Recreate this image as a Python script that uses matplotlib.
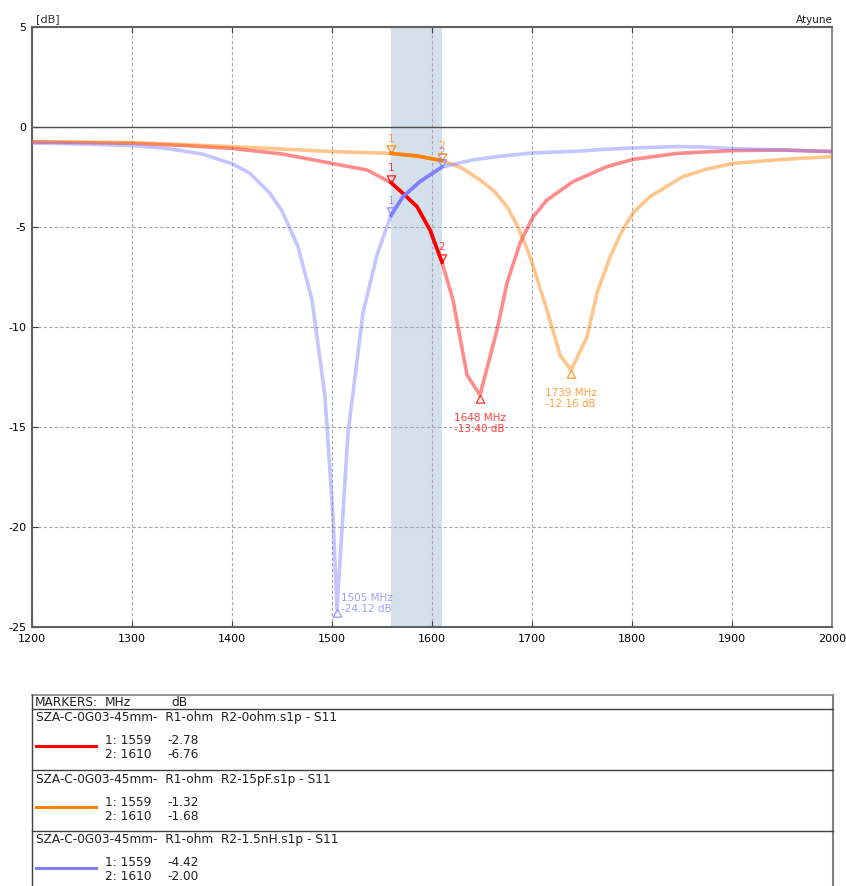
import numpy as np
import matplotlib
matplotlib.use("Agg")
import matplotlib.pyplot as plt
from matplotlib.path import Path

# ---- data (MHz, dB) ----
freq_0ohm = [1200, 1250, 1300, 1350, 1400, 1450, 1500, 1535, 1559, 1571, 1585, 1598, 1610,
             1621, 1635, 1648, 1665, 1675, 1688, 1701, 1715, 1741, 1775, 1801, 1845, 1900,
             1950, 2000]
db_0ohm = [-0.75, -0.78, -0.82, -0.92, -1.07, -1.35, -1.82, -2.15, -2.78, -3.32, -3.98, -5.15,
           -6.76, -8.65, -12.4, -13.40, -10.15, -7.8, -5.8, -4.5, -3.65, -2.73, -1.98, -1.62,
           -1.32, -1.18, -1.15, -1.23]

freq_15pf = [1200, 1250, 1300, 1350, 1400, 1450, 1500, 1559, 1585, 1610, 1630, 1648, 1662,
             1675, 1686, 1698, 1715, 1728, 1739, 1755, 1765, 1778, 1790, 1801, 1818, 1851,
             1875, 1901, 1951, 2000]
db_15pf = [-0.75, -0.76, -0.78, -0.88, -0.98, -1.1, -1.23, -1.32, -1.45, -1.68, -2.05, -2.65,
           -3.2, -3.98, -5.0, -6.48, -9.15, -11.4, -12.16, -10.5, -8.3, -6.5, -5.2, -4.3,
           -3.48, -2.48, -2.1, -1.82, -1.62, -1.48]

freq_15nh = [1200, 1250, 1300, 1335, 1370, 1401, 1418, 1438, 1450, 1466, 1480, 1493, 1501,
             1505, 1516, 1531, 1545, 1559, 1571, 1588, 1610, 1640, 1665, 1700, 1750, 1771,
             1800, 1845, 1870, 1901, 1950, 2000]
db_15nh = [-0.8, -0.85, -0.93, -1.07, -1.35, -1.85, -2.32, -3.32, -4.2, -5.98, -8.65, -13.48,
           -19.5, -24.12, -15.3, -9.3, -6.4, -4.42, -3.48, -2.73, -2.00, -1.65, -1.48, -1.3,
           -1.2, -1.12, -1.05, -0.98, -1.0, -1.08, -1.15, -1.23]

trace_names = ["SZA-C-0G03-45mm-  R1-ohm  R2-0ohm.s1p - S11",
               "SZA-C-0G03-45mm-  R1-ohm  R2-15pF.s1p - S11",
               "SZA-C-0G03-45mm-  R1-ohm  R2-1.5nH.s1p - S11"]
marker_freqs = [1559, 1610]
marker_db = [[-2.78, -6.76], [-1.32, -1.68], [-4.42, -2.00]]
min_freq = [1648, 1739, 1505]
min_db = [-13.40, -12.16, -24.12]
band = (1559, 1610)

colors = ["#ff0000", "#ff8000", "#7f7fff"]

plt.rcParams['font.family'] = ['DejaVu Sans']
plt.rcParams['axes.unicode_minus'] = False

fig = plt.figure(figsize=(8.46, 8.86), dpi=100)
ax = fig.add_axes([32 / 846, 1 - 627 / 886, 800 / 846, 600 / 886])

ax.set_xlim(1200, 2000)
ax.set_ylim(-25, 5)
ax.set_xticks(np.arange(1200, 2001, 100))
ax.set_yticks(np.arange(-25, 6, 5))
ax.set_axisbelow(True)
ax.grid(color="#a8a8a8", linestyle=(0, (3, 2)), linewidth=0.8)
ax.tick_params(axis='x', direction='in', length=4, top=True, bottom=True, labelsize=8,
               color="#404040", pad=5)
ax.tick_params(axis='y', direction='in', length=4, labelsize=8, color="#404040", pad=4)
for side in ['top', 'left', 'bottom']:
    ax.spines[side].set_color("#606060")
    ax.spines[side].set_linewidth(1.5)
ax.spines['right'].set_color("#909090")
ax.spines['right'].set_linewidth(1.5)
ax.axhline(0, color="#505050", linewidth=1, zorder=1)
ax.axvspan(band[0], band[1], color="#d4e0ec", zorder=0.2, linewidth=0)

# marker shapes with the tip on the data point
tri_down = Path([(0, 0), (-0.55, 1), (0.55, 1), (0, 0)], closed=True)
tri_up = Path([(0, 0), (-0.55, -1), (0.55, -1), (0, 0)], closed=True)

series = [(freq_0ohm, db_0ohm), (freq_15pf, db_15pf), (freq_15nh, db_15nh)]
min_offsets = [((0, -13), 'center', 'top'), ((0, -13), 'center', 'top'), ((3, -3), 'left', 'bottom')]

for i, (f, d) in enumerate(series):
    f = np.array(f)
    d = np.array(d)
    c = colors[i]
    ax.plot(f, d, color=c, alpha=0.45, linewidth=2.6, zorder=3)
    m = (f >= band[0]) & (f <= band[1])
    ax.plot(f[m], d[m], color=c, linewidth=2.6, zorder=4)
    # band markers
    for k, mf in enumerate(marker_freqs):
        ax.plot(mf, marker_db[i][k], marker=tri_down, markersize=11, markerfacecolor='none',
                markeredgecolor=c, alpha=0.8, markeredgewidth=1, zorder=5)
        ax.annotate(str(k + 1), xy=(mf, marker_db[i][k]), xytext=(0, 7),
                    textcoords='offset points', ha='center', va='bottom', fontsize=7.5,
                    color=c, alpha=0.75)
    # minimum marker
    ax.plot(min_freq[i], min_db[i], marker=tri_up, markersize=11, markerfacecolor='none',
            markeredgecolor=c, alpha=0.75, markeredgewidth=1, zorder=5)
    off, ha, va = min_offsets[i]
    ax.annotate("%d MHz\n%.2f dB" % (min_freq[i], min_db[i]), xy=(min_freq[i], min_db[i]),
                xytext=off, textcoords='offset points', ha=ha, va=va, fontsize=7.5,
                color=c, alpha=0.75, linespacing=1.1, multialignment='left')

# ---- texts round the plot and the marker table ----
tab = fig.add_axes([0, 0, 1, 1])
tab.set_xlim(0, 846)
tab.set_ylim(886, 0)
tab.axis('off')
tab.set_zorder(-1)

tab.text(36, 19, "[dB]", fontsize=8, color="#303030", va='center')
tab.text(833, 20, "Atyune", fontsize=7.5, color="#202020", ha='right', va='center')
tab.text(829, 620, "[MHz]", fontsize=8, color="#303030", ha='right', va='center')

fs = 8.7
line_kw = dict(color="#404040", linewidth=1)
tab.plot([32, 833], [695, 695], color="#808080", linewidth=1.2)
tab.plot([32, 32], [695, 886], **line_kw)
tab.plot([833, 833], [695, 886], color="#808080", linewidth=1.5)
tab.plot([32, 833], [709, 709], **line_kw)
tab.text(35, 702, "MARKERS:", fontsize=fs, va='center', color="#202020")
tab.text(105, 702, "MHz", fontsize=fs, va='center', color="#202020")
tab.text(171, 702, "dB", fontsize=fs, va='center', color="#202020")

row_h = 61
for i in range(3):
    y0 = 709 + i * row_h
    if i > 0:
        tab.plot([32, 833], [y0, y0], **line_kw)
    tab.text(36, y0 + 9, trace_names[i], fontsize=fs, va='center', color="#202020")
    tab.plot([36, 96], [y0 + 37, y0 + 37], color=colors[i], linewidth=2.2)
    for k, mf in enumerate(marker_freqs):
        yy = y0 + 32 + k * 14
        tab.text(105, yy, "%d: %d" % (k + 1, mf), fontsize=fs, va='center', color="#202020")
        tab.text(167, yy, "%.2f" % marker_db[i][k], fontsize=fs, va='center', color="#202020")

fig.savefig("out.png", dpi=100)
